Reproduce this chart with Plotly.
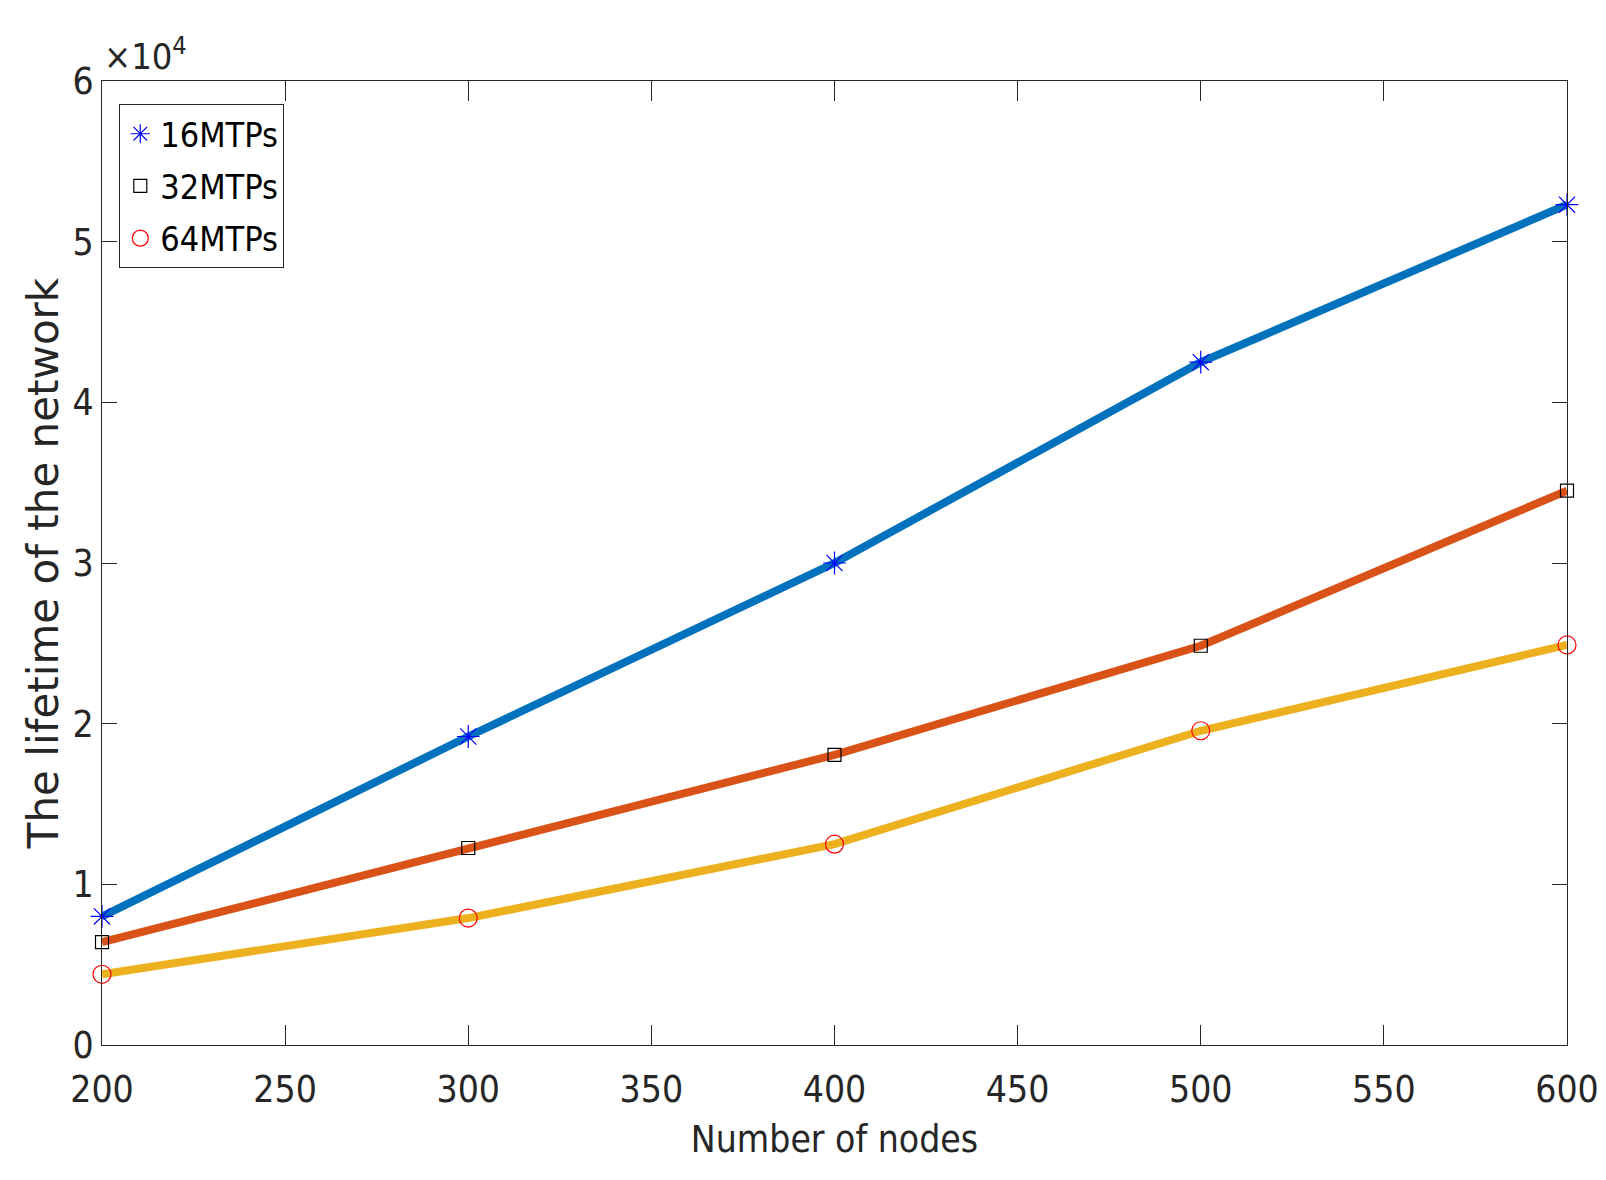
import plotly.graph_objects as go

nodes = [200, 300, 400, 500, 600]
mtp16 = [8000, 19200, 30000, 42500, 52300]
mtp32 = [6400, 12260, 18060, 24850, 34500]
mtp64 = [4400, 7900, 12500, 19560, 24900]
series_names = ["16MTPs", "32MTPs", "64MTPs"]
x_ticks = [200, 250, 300, 350, 400, 450, 500, 550, 600]
y_tickvals = [0, 10000, 20000, 30000, 40000, 50000, 60000]
y_ticktext = ["0", "1", "2", "3", "4", "5", "6"]

narrow = "DejaVu Sans Condensed, Liberation Sans Narrow, Liberation Sans, sans-serif"
axis_col = "#262626"

fig = go.Figure()
line_cols = ["#0072BD", "#D95319", "#EDB120"]
data = [mtp16, mtp32, mtp64]
for vals, col in zip(data, line_cols):
    fig.add_trace(go.Scatter(x=nodes, y=vals, mode="lines",
                             line=dict(color=col, width=8), showlegend=False,
                             hoverinfo="skip"))

marker_specs = [
    dict(symbol="asterisk-open", size=19, color="#0000FF", line=dict(color="#0000FF", width=1.2)),
    dict(symbol="square-open", size=13, color="#000000", line=dict(color="#000000", width=1.2)),
    dict(symbol="circle-open", size=18, color="#FF0000", line=dict(color="#FF0000", width=1.2)),
]
for vals, name, m in zip(data, series_names, marker_specs):
    fig.add_trace(go.Scatter(x=nodes, y=vals, mode="markers", name=name,
                             legendgroup=name, marker=m, cliponaxis=False))

fig.update_layout(
    width=1606, height=1180,
    margin=dict(l=94, r=47, t=73, b=143),
    paper_bgcolor="white", plot_bgcolor="white",
    showlegend=True,
    legend=dict(x=0.0118, y=0.976, xanchor="left", yanchor="top",
                bordercolor=axis_col, borderwidth=1, bgcolor="white",
                font=dict(family=narrow, size=34, color="#000000"),
                tracegroupgap=5, itemwidth=30),
    xaxis=dict(range=[200, 600], tickvals=x_ticks, ticks="inside", ticklen=20,
               tickcolor=axis_col, showline=True, linecolor=axis_col, linewidth=1,
               mirror="ticks", showgrid=False, zeroline=False, ticklabelstandoff=12,
               tickfont=dict(family=narrow, size=37, color=axis_col),
               title=dict(text="Number of nodes", standoff=15,
                          font=dict(family=narrow, size=37, color=axis_col))),
    yaxis=dict(range=[0, 60000], tickvals=y_tickvals, ticktext=y_ticktext,
               ticks="inside", ticklen=15,
               tickcolor=axis_col, showline=True, linecolor=axis_col, linewidth=1,
               mirror="ticks", showgrid=False, zeroline=False,
               tickfont=dict(family=narrow, size=37, color=axis_col),
               title=dict(text="The lifetime of the network", standoff=0,
                          font=dict(family="DejaVu Sans, sans-serif", size=42, color=axis_col))),
    annotations=[dict(text="×10<sup>4</sup>", x=0.0, y=1.0, xref="paper", yref="paper",
                      xanchor="left", yanchor="bottom", showarrow=False, yshift=2, xshift=0,
                      font=dict(family=narrow, size=36, color=axis_col))],
)

fig.write_html("out.html")
